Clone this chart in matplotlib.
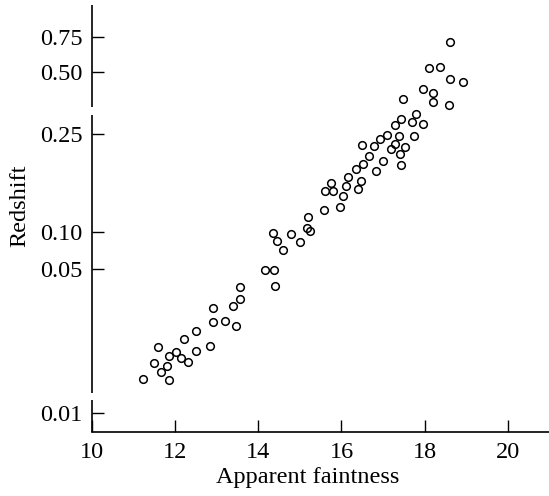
import numpy as np
import matplotlib
matplotlib.use("Agg")
import matplotlib.pyplot as plt

plt.rcParams['font.family'] = ['Liberation Serif', 'DejaVu Serif']

# apparent faintness (magnitude) and redshift
faintness = [11.23, 11.59, 11.49, 11.66, 11.85, 11.80, 11.84, 12.02, 12.13, 12.30,
             12.22, 12.49, 12.49, 12.84, 12.90, 12.90, 13.21, 13.38, 13.46, 13.57,
             13.55, 14.15, 14.38, 14.41, 14.59, 14.44, 14.36, 14.78, 14.99, 15.20,
             15.16, 15.24, 15.58, 15.96, 15.61, 15.80, 15.74, 16.04, 16.12, 16.40,
             16.47, 16.16, 16.35, 16.52, 16.66, 16.49, 16.77, 16.84, 17.00, 16.92,
             17.10, 17.28, 17.43, 17.39, 17.70, 17.75, 17.28, 17.52, 17.40, 17.19,
             17.44, 17.48, 17.80, 17.96, 17.96, 18.20, 18.20, 18.59, 18.61, 18.91,
             18.11, 18.38, 18.60]
redshift = [0.0147, 0.0209, 0.0176, 0.0159, 0.0145, 0.0169, 0.0190, 0.0199, 0.0186, 0.0177,
            0.0230, 0.0250, 0.0201, 0.0213, 0.0325, 0.0278, 0.0280, 0.0330, 0.0265, 0.0360,
            0.0410, 0.0498, 0.0496, 0.0417, 0.0718, 0.0850, 0.0981, 0.0963, 0.0829, 0.115,
            0.1035, 0.1007, 0.1226, 0.1267, 0.1471, 0.1471, 0.1581, 0.1404, 0.1533, 0.1495,
            0.1616, 0.1668, 0.1802, 0.1889, 0.2041, 0.2252, 0.2235, 0.1774, 0.1942, 0.2397,
            0.2493, 0.2765, 0.2957, 0.2465, 0.2881, 0.2461, 0.2292, 0.2224, 0.2080, 0.2173,
            0.1880, 0.3685, 0.3144, 0.2811, 0.4148, 0.3976, 0.3575, 0.3477, 0.4598, 0.4471,
            0.5237, 0.5268, 0.7078]

x_ticks = [10, 12, 14, 16, 18, 20]
y_ticks = [0.01, 0.05, 0.10, 0.25, 0.50, 0.75]
y_labels = ['0.01', '0.05', '0.10', '0.25', '0.50', '0.75']

# the printed redshift axis is not a clean log scale: map log(z) piecewise
log_knots = np.log10([0.001, 0.01, 0.05, 0.10, 0.25, 0.50, 0.75, 10.0])
pos_knots = np.array([-186.0, 18.7, 162.0, 199.5, 297.0, 359.3, 393.7, 613.5])

def forward(z):
    z = np.clip(np.asarray(z, dtype=float), 1e-3, 10)
    return np.interp(np.log10(z), log_knots, pos_knots)

def inverse(u):
    return 10 ** np.interp(u, pos_knots, log_knots)

fig = plt.figure(figsize=(5.49, 4.96), dpi=100)
ax = fig.add_axes([92/549, 64/496, 457/549, 427/496])

ax.plot(faintness, redshift, 'o', mfc='none', mec='black', ms=5.5, mew=1.1,
        linestyle='none', clip_on=False)

ax.set_yscale('function', functions=(forward, inverse))
ax.set_xlim(10, 20.99)
ax.set_ylim(0.00807, 1.099)

ax.set_xticks(x_ticks)
ax.set_xticklabels([str(t) for t in x_ticks])
ax.set_yticks(y_ticks)
ax.set_yticklabels(y_labels)
ax.minorticks_off()
ax.tick_params(direction='in', length=8.5, width=1.0, pad=7, labelsize=17.5,
               colors='black')

for s in ['top', 'right', 'left']:
    ax.spines[s].set_visible(False)
ax.spines['bottom'].set_linewidth(1.2)

# broken left axis line
for y0, y1 in [(0.0, 0.075), (0.091, 0.742), (0.761, 1.0)]:
    ax.plot([0, 0], [y0, y1], color='black', lw=1.2, transform=ax.transAxes,
            clip_on=False, solid_capstyle='butt')

ax.set_xlabel('Apparent faintness', fontsize=17.5)
ax.set_ylabel('Redshift', fontsize=17.5)
ax.xaxis.set_label_coords(0.473, -0.082)
ax.yaxis.set_label_coords(-0.135, 0.529)

fig.savefig('out.png', dpi=100)
